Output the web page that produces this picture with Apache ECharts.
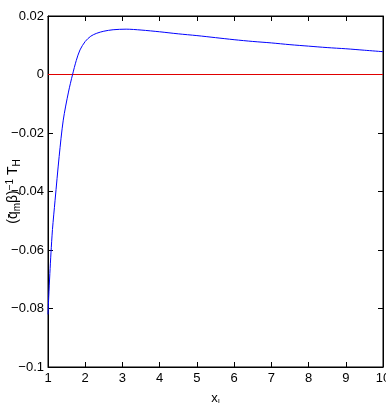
<!DOCTYPE html>
<html><head><meta charset="utf-8">
<script src="https://cdn.jsdelivr.net/npm/echarts@6/dist/echarts.min.js"></script>
<style>html,body{margin:0;padding:0;background:#fff}#c{width:386px;height:408px}</style>
</head><body><div id="c"></div>
<script>
var xValues = [1, 1.02, 1.05, 1.08, 1.12, 1.19, 1.3, 1.41, 1.55, 1.66, 1.76, 1.86, 2.0, 2.15, 2.31, 2.5, 2.75, 3.1, 3.5, 4, 4.5, 5, 5.5, 6, 6.5, 7, 7.5, 8, 8.5, 9, 9.5, 10];
var blueValues = [-0.082, -0.076, -0.068, -0.061, -0.053, -0.043, -0.028, -0.0156, -0.006, 0, 0.0048, 0.0084, 0.0113, 0.0131, 0.0141, 0.0148, 0.0153, 0.0155, 0.0152, 0.0146, 0.0139, 0.0133, 0.0126, 0.0119, 0.0113, 0.0108, 0.0102, 0.0097, 0.0092, 0.0088, 0.0083, 0.0078];
var redX = [1, 10];
var redValues = [0, 0];
var xTicks = [1,2,3,4,5,6,7,8,9,10];
var yTicks = [-0.1,-0.08,-0.06,-0.04,-0.02,0,0.02];

var font = 'Liberation Sans Narrow, Arial Narrow, sans-serif';
var chart = echarts.init(document.getElementById('c'));
function fmtY(v){ v = parseFloat(v.toFixed(2)); return v === 0 ? '0' : String(v).replace('-', '\u2212'); }
chart.setOption({
  animation: false,
  grid: {left: 48, right: 3, top: 16, bottom: 41, show: true, borderColor: '#000', borderWidth: 1, containLabel: false, outerBoundsMode: 'none'},
  xAxis: [{
    type: 'value', min: 1, max: 10, interval: 1,
    axisLine: {onZero: false, lineStyle: {color: '#000'}},
    axisTick: {inside: true, length: 5, lineStyle: {color: '#000'}},
    axisLabel: {color: '#000', fontFamily: font, fontSize: 13, margin: 5, showMaxLabel: true},
    splitLine: {show: false},
    name: '{m|x}{s|ı}', nameLocation: 'middle', nameGap: 24, nameMoveOverlap: false,
    nameTextStyle: {rich: {m: {fontFamily: font, fontSize: 13, color: '#000'}, s: {fontFamily: font, fontSize: 8, color: '#000', verticalAlign: 'bottom', padding: [6,0,0,0]}}}
  },{
    type: 'value', min: 1, max: 10, interval: 1, position: 'top',
    axisLine: {onZero: false, lineStyle: {color: '#000'}},
    axisTick: {inside: true, length: 5, lineStyle: {color: '#000'}},
    axisLabel: {show: false}, splitLine: {show: false}
  }],
  yAxis: [{
    type: 'value', min: -0.1, max: 0.02, interval: 0.02,
    axisLine: {onZero: false, lineStyle: {color: '#000'}},
    axisTick: {inside: true, length: 5, lineStyle: {color: '#000'}},
    axisLabel: {color: '#000', fontFamily: font, fontSize: 13, margin: 4, formatter: fmtY},
    splitLine: {show: false},
    name: '{t|(q\u0304}{s|m}{t|\u03b2)}{p|\u22121}{t| T}{s|H}', nameLocation: 'middle', nameGap: 26, nameMoveOverlap: false,
    nameTextStyle: {rich: {t: {fontFamily: font, fontSize: 14, color: '#000'}, s: {fontFamily: font, fontSize: 10, color: '#000', padding: [7,0,0,0]}, p: {fontFamily: font, fontSize: 10, color: '#000', padding: [0,0,7,0]}}}
  },{
    type: 'value', min: -0.1, max: 0.02, interval: 0.02, position: 'right',
    axisLine: {onZero: false, lineStyle: {color: '#000'}},
    axisTick: {inside: true, length: 5, lineStyle: {color: '#000'}},
    axisLabel: {show: false}, splitLine: {show: false}
  }],
  series: [{
    type: 'line', data: redX.map(function(x,i){return [x, redValues[i]];}),
    showSymbol: false, lineStyle: {color: '#e00000', width: 1}
  },{
    type: 'line', data: xValues.map(function(x,i){return [x, blueValues[i]];}),
    smooth: 0.3, showSymbol: false, lineStyle: {color: '#0000ff', width: 1}
  }]
});
</script></body></html>
